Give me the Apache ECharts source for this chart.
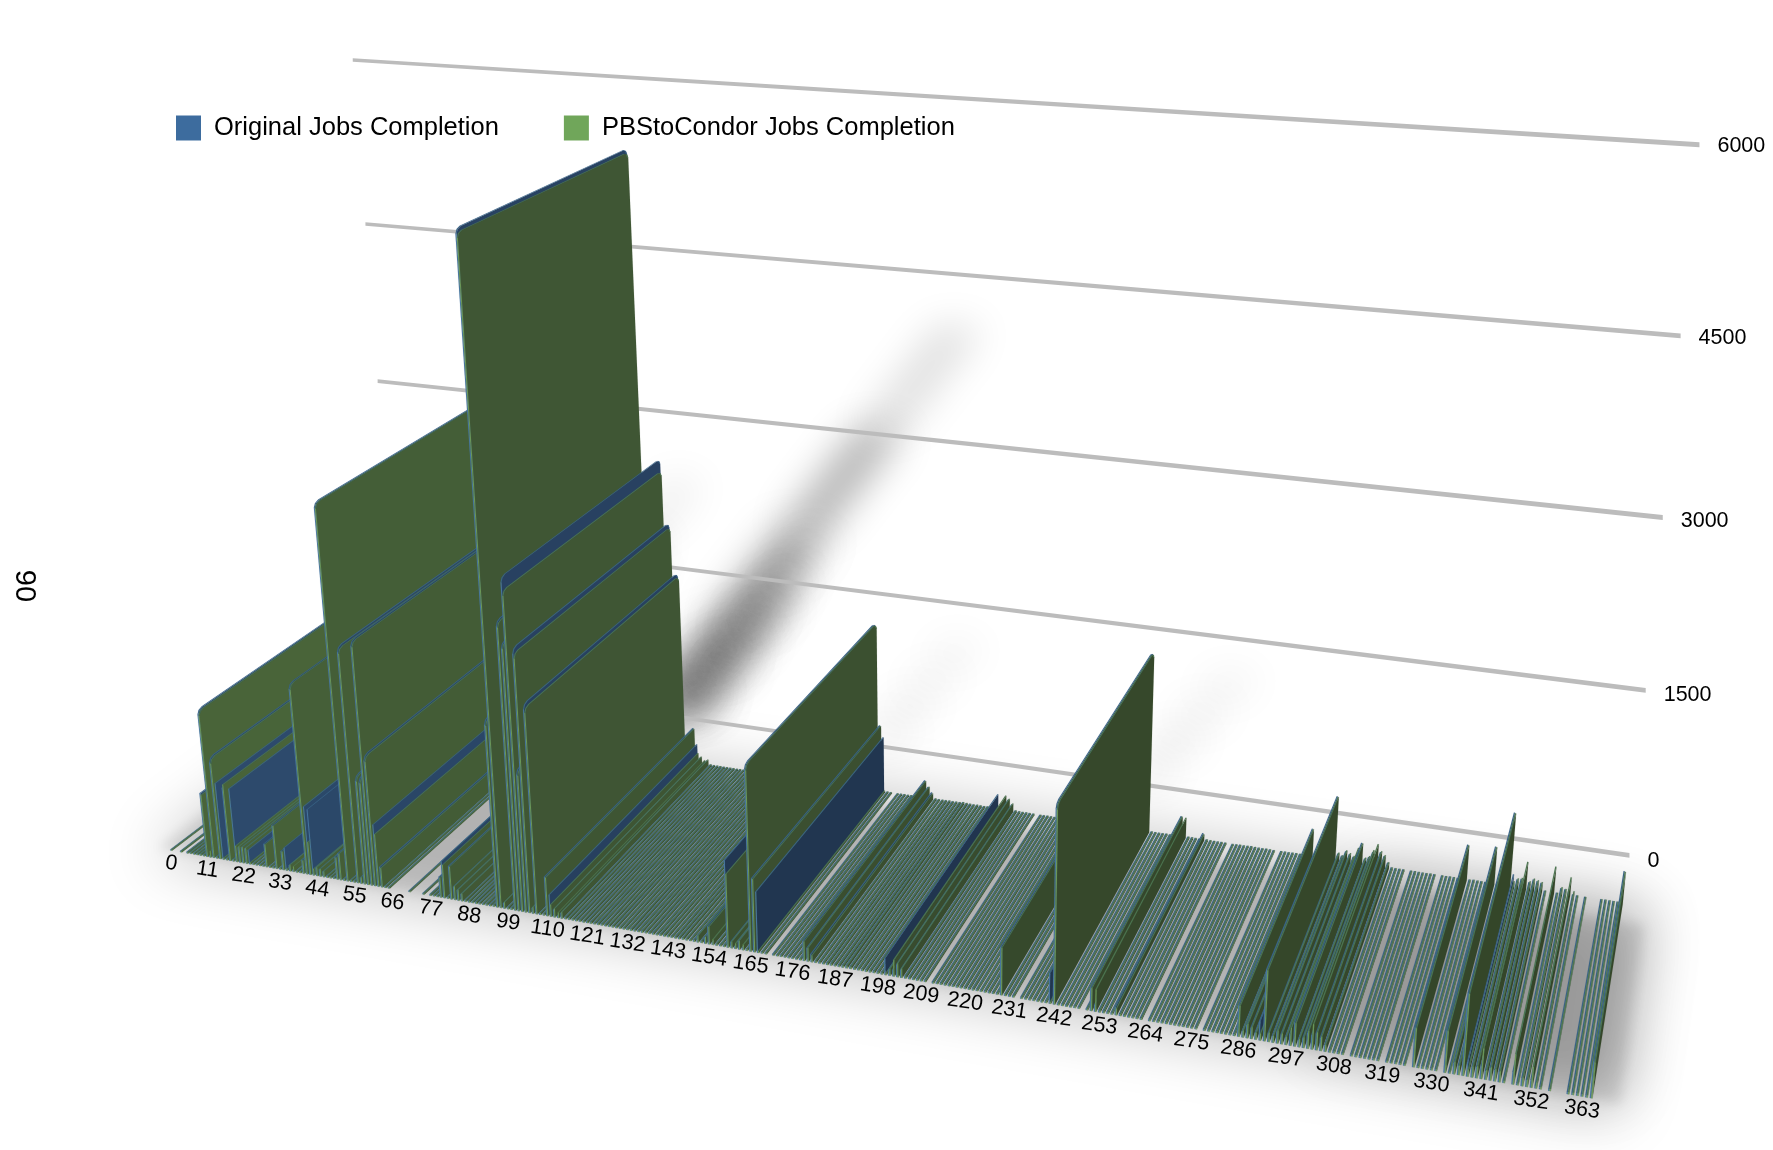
<!DOCTYPE html>
<html><head><meta charset="utf-8">
<style>html,body{margin:0;padding:0;background:#fff}#c{width:1773px;height:1150px}</style>
<script src="https://cdn.jsdelivr.net/npm/echarts@6/dist/echarts.min.js"></script>
</head><body><div id="c"></div>
<script>
var categories = Array.from({length:366},function(_,i){return String(i);});
var xTickLabels = ['0','11','22','33','44','55','66','77','88','99','110','121','132','143','154','165','176','187','198','209','220','231','242','253','264','275','286','297','308','319','330','341','352','363'];
var yTicks = [0,1500,3000,4500,6000];
var axisTitle = '90';
var originalJobs = [
9,0,0,10,0,13,14,12,14,16,16,
585,18,1350,18,930,700,16,670,18,670,140,
145,140,130,13,11,12,10,215,13,12,400,
13,175,210,55,21,14,14,125,1705,620,600,
75,65,50,16,14,13,205,245,16,3290,16,
16,2090,55,975,965,2160,1170,560,185,13,10,
0,0,0,0,0,10,0,0,0,11,0,
13,14,12,185,330,16,300,120,95,65,16,
14,13,15,14,12,14,13,16,1650,5575,50,
16,18,2500,2320,2870,1260,2290,50,1830,16,16,
350,195,70,20,50,17,15,14,15,14,14,
14,14,13,15,14,13,14,14,15,13,14,
13,14,14,13,15,14,13,14,12,14,14,
14,13,14,15,16,14,13,15,50,18,55,
160,20,16,13,14,760,55,20,75,20,16,
1600,640,530,13,12,0,11,12,13,12,13,
12,13,14,175,118,70,16,15,14,16,16,
15,16,17,21,18,16,15,16,15,14,16,
15,16,145,55,60,110,70,18,15,14,14,
14,13,0,12,13,14,13,12,13,14,13,
13,12,14,13,12,13,14,13,12,410,14,
14,13,0,12,13,14,13,12,13,14,260,
1665,14,13,12,13,14,12,0,12,198,60,
16,16,15,14,70,16,14,13,13,14,13,
0,12,13,14,13,15,16,14,13,13,14,
13,12,0,13,14,13,14,15,14,14,15,
262,50,110,90,55,160,590,70,55,100,80,
60,100,200,60,80,130,120,140,110,55,16,
15,14,14,0,13,14,13,12,13,14,13,
0,13,12,14,13,12,0,325,13,16,14,
14,13,0,345,13,90,70,670,120,80,90,
100,70,100,90,80,16,0,100,13,60,55,
60,20,16,0,15,0,0,0,16,17,16,
16,15,295];
var pbsJobs = [
10,0,0,11,0,14,16,13,15,18,16,
570,60,1340,20,920,18,18,700,19,150,150,
150,145,18,14,12,13,11,210,14,13,395,
14,170,18,60,50,16,16,120,1700,300,60,
80,70,55,18,16,14,200,240,18,3285,18,
18,2075,60,970,960,2150,1160,475,175,14,11,
0,0,0,0,0,11,0,0,0,12,0,
14,15,13,180,300,18,295,125,100,70,18,
16,14,16,15,13,16,14,18,1640,5545,60,
18,20,2490,2315,2760,1250,2250,60,1800,18,18,
345,110,80,50,60,19,17,16,16,15,16,
15,16,14,16,15,14,16,15,16,14,15,
14,16,15,14,16,16,14,15,13,16,15,
16,14,15,16,18,16,14,16,60,20,60,
155,50,18,14,15,640,60,50,80,50,18,
1595,635,18,14,13,0,12,13,14,13,14,
13,14,15,170,120,60,18,16,16,17,18,
16,17,19,23,20,17,16,18,16,16,17,
16,17,18,60,145,120,80,20,16,15,16,
15,14,0,13,14,15,14,13,14,15,14,
14,13,15,14,13,14,15,14,13,405,16,
15,14,0,13,14,15,14,13,14,15,18,
1660,15,14,13,14,15,13,0,13,195,190,
18,17,16,16,60,18,16,15,14,15,14,
0,13,14,15,14,16,18,16,15,14,16,
14,13,0,14,15,14,16,16,16,15,16,
258,60,120,100,60,60,585,80,60,110,90,
70,150,195,70,90,150,210,150,120,60,18,
16,16,15,0,14,15,14,13,14,15,14,
0,14,13,15,14,13,0,320,14,18,16,
15,14,0,340,14,100,80,665,60,90,100,
250,80,110,100,90,18,0,245,14,70,60,
170,50,18,0,16,0,0,0,17,19,18,
17,16,290];

/* camera: a projective map fitted to the frame of the scene (category, depth, value -> screen) */
var S = 1773/1568, XN = 365, VN = 6000, BAR_DEPTH = 0.77;
var cameraRefs = [
 [0,1,6000,310,53],[0,1,4500,322,198],[0,1,3000,334,337],[0,1,0,358,599],
 [365,1,6000,1501,127],[365,1,4500,1486,296],[365,1,3000,1471,457],[365,1,1500,1456,612],[365,1,0,1441,757],
 [0,0,0,150,752],[66,0,0,345,787],[165,0,0,665,842],[242,0,0,931,887],[363,0,0,1400,969],
 [0,0,6000,82,126],[365,0,6000,1481,237],[97,0,5545,407,205],[242,0,1660,932,710]
];
function fitCamera(refs){
  var n=11,A=[],b=[],i,j,k;
  for(i=0;i<n;i++){A.push(new Array(n).fill(0));b.push(0);}
  function add(r,v){for(var p=0;p<n;p++){for(var q=0;q<n;q++)A[p][q]+=r[p]*r[q];b[p]+=r[p]*v;}}
  refs.forEach(function(t){
    var X=t[0]/XN,D=t[1],V=t[2]/VN,x=t[3]*S/1000,y=t[4]*S/1000;
    add([X,D,V,1,0,0,0,0,-x*X,-x*D,-x*V],x);
    add([0,0,0,0,X,D,V,1,-y*X,-y*D,-y*V],y);
  });
  for(i=0;i<n;i++){
    var m=i;for(j=i+1;j<n;j++)if(Math.abs(A[j][i])>Math.abs(A[m][i]))m=j;
    var ta=A[i];A[i]=A[m];A[m]=ta;var tb=b[i];b[i]=b[m];b[m]=tb;
    for(j=i+1;j<n;j++){var f=A[j][i]/A[i][i];for(k=i;k<n;k++)A[j][k]-=f*A[i][k];b[j]-=f*b[i];}
  }
  var p=new Array(n);
  for(i=n-1;i>=0;i--){var s=b[i];for(k=i+1;k<n;k++)s-=A[i][k]*p[k];p[i]=s/A[i][i];}
  return p;
}
var cam = fitCamera(cameraRefs);
function project(X,D,V){
  var x=X/XN,v=V/VN,w=cam[8]*x+cam[9]*D+cam[10]*v+1;
  return [1000*(cam[0]*x+cam[1]*D+cam[2]*v+cam[3])/w,1000*(cam[4]*x+cam[5]*D+cam[6]*v+cam[7])/w];
}
/* read the library's scales, return model coordinates */
function model(params,api,cat,val,off){
  var c=api.coord([cat,val]),cs=params.coordSys,band=api.size([1,0])[0];
  return {X:(c[0]+(off||0)*band-cs.x)/cs.width*366-0.5, V:(cs.y+cs.height-c[1])/cs.height*VN};
}
function lerp(a,b,t){return a+(b-a)*t;}
function ramp(stops,i){
  for(var k=1;k<stops.length;k++){
    if(i<=stops[k][0]){var t=(i-stops[k-1][0])/(stops[k][0]-stops[k-1][0]);
      return 'rgb('+[1,2,3].map(function(c){return Math.round(lerp(stops[k-1][c],stops[k][c],t));}).join(',')+')';}
  }
  var l=stops[stops.length-1];return 'rgb('+l[1]+','+l[2]+','+l[3]+')';
}
var greenSide=[[0,74,102,58],[100,63,86,52],[250,53,71,43],[365,52,70,41]];
var blueSide=[[0,46,76,110],[100,40,66,98],[170,33,53,79],[365,33,55,82]];
function barRenderer(a,b,side,front,top,order){
  return function(params,api){
    var i=api.value(0),val=api.value(1);
    if(!val)return null;
    var l=model(params,api,i,0,a),r=model(params,api,i,val,b),L=l.X,R=r.X,V=r.V,D=BAR_DEPTH,z=i*2+order;
    /* soft rounded corners on the taller panels */
    var c=V>=900?45:0,e=V>=900?0.018:0;
    function poly(p,col){return {type:'polygon',z2:z,silent:true,shape:{points:p},style:{fill:col,stroke:col,lineWidth:0.1,lineJoin:'round'}};}
    return {type:'group',children:[
      poly([project(R,0,0),project(R,D,0),project(R,D,V-c),project(R,D-e*0.3,V-c*0.3),project(R,D-e,V),project(R,e,V),project(R,e*0.3,V-c*0.3),project(R,0,V-c)],ramp(side,i)),
      poly([project(L,0,V-c),project(R,0,V-c),project(R,e*0.3,V-c*0.3),project(R,e,V),project(R,D-e,V),project(R,D-e*0.3,V-c*0.3),project(R,D,V-c),project(L,D,V-c),project(L,D-e*0.3,V-c*0.3),project(L,D-e,V),project(L,e,V),project(L,e*0.3,V-c*0.3)],top),
      poly([project(L,0,0),project(R,0,0),project(R,0,V-c),project(L,0,V-c)],front)
    ]};
  };
}
/* blurred shadow only: the shape sits off canvas and its shadow falls back on it */
var OFF=4000;
function softShadow(pts,alpha,blur,z2){
  return {type:'polygon',silent:true,z2:z2||0,shape:{points:pts.map(function(p){return [p[0]-OFF,p[1]];})},
    style:{fill:'#000',shadowColor:'rgba(0,0,0,'+alpha+')',shadowBlur:blur,shadowOffsetX:OFF,shadowOffsetY:0}};
}
function floorShadow(params,api){
  var a=model(params,api,0,0,-4),b=model(params,api,365,0,6);
  return {type:'group',children:[
    softShadow([project(a.X,-0.045,0),project(b.X,-0.045,0),project(b.X,BAR_DEPTH,0),project(a.X,BAR_DEPTH,0)],0.22,60),
    softShadow([project(b.X-70,0.02,0),project(b.X+1,0.02,0),project(b.X+1,BAR_DEPTH,0),project(b.X-70,BAR_DEPTH,0)],0.14,60),
    softShadow([project(a.X,0,0),project(b.X,0,0),project(b.X,BAR_DEPTH*0.9,0),project(a.X,BAR_DEPTH*0.9,0)],0.10,12)
  ]};
}
function wallShadow(params,api){
  var i=api.value(0),val=api.value(1),kids=[],base=[0.38,0.38,0.32,0.13],n=base.length;
  var hw=6.5, top=0.73*val, gain=Math.pow(val/5545,1.4);
  for(var k=0;k<n;k++){
    var v0=top*k/n,v1=top*(k+1)/n,x0=i-10+0.023*v0,x1=i-10+0.023*v1;
    kids.push(softShadow([project(x0-hw,1,v0),project(x0+hw,1,v0),project(x1+hw,1,v1),project(x1-hw,1,v1)],Math.max(0.05,base[k]*gain),38));
  }
  return {type:'group',children:kids};
}
function gridLine(params,api){
  var v=api.value(0),a=model(params,api,0,v),b=model(params,api,365,v);
  var p=project(a.X,1,a.V),q=project(b.X,1,b.V);
  return {type:'group',children:[
    {type:'polygon',silent:true,shape:{points:[[p[0],p[1]-1.8],[q[0],q[1]-2.4],[q[0],q[1]+2.4],[p[0],p[1]+1.8]]},style:{fill:'#bcbcbc'}},
    {type:'text',silent:true,x:q[0]+18,y:q[1]+1+(VN-v)/VN*5,style:{text:String(v),fill:'#000',font:'21.5px "Liberation Sans"',align:'left',verticalAlign:'middle'}}
  ]};
}
function catLabel(params,api){
  var i=api.value(0),m=model(params,api,i,0),p=project(m.X,0,0);
  return {type:'text',silent:true,z2:1,x:p[0],y:p[1]+13,rotation:-0.15,
    style:{text:xTickLabels[params.dataIndex],fill:'#000',font:'21.5px "Liberation Sans"',align:'center',verticalAlign:'middle'}};
}
function silentSeries(name,z,data,fn){
  return {type:'custom',name:name,z:z,silent:true,animation:false,clip:false,coordinateSystem:'cartesian2d',data:data,renderItem:fn,encode:{x:0,y:1},tooltip:{show:false}};
}
var BLUE='#3d6c9e',GREEN='#70a65a';
function pair(arr){return arr.map(function(v,i){return [i,v];});}
var tall=pair(pbsJobs).filter(function(d){return d[1]>=1500;});
var chart=echarts.init(document.getElementById('c'),null,{renderer:'canvas',width:1773,height:1150});
chart.setOption({
  animation:false,
  backgroundColor:'#fff',
  legend:{data:['Original Jobs Completion','PBStoCondor Jobs Completion'],left:171,top:110,icon:'rect',itemWidth:25,itemHeight:25,itemGap:65,selectedMode:false,
    textStyle:{fontFamily:'Liberation Sans',fontSize:25.5,color:'#000',padding:[9,0,0,8]}},
  grid:{left:0,right:0,top:0,bottom:0,containLabel:false},
  xAxis:{type:'category',data:categories,show:false},
  yAxis:{type:'value',min:0,max:6000,interval:1500,show:false},
  graphic:[{type:'text',x:24,y:586,rotation:-Math.PI/2,silent:true,style:{text:axisTitle,fill:'#000',font:'29px "Liberation Sans"',align:'center',verticalAlign:'middle'}}],
  series:[
    silentSeries('floor shadow',0,[[0,0]],floorShadow),
    silentSeries('wall shadow',0,tall,wallShadow),
    silentSeries('value axis',1,yTicks.map(function(v){return [v,0];}),gridLine),
    {type:'custom',name:'Original Jobs Completion',z:2,animation:false,clip:false,coordinateSystem:'cartesian2d',silent:true,itemStyle:{color:BLUE},
      data:pair(originalJobs),encode:{x:0,y:1},renderItem:barRenderer(-0.36,-0.07,blueSide,'#47769f','#3a6485',0)},
    {type:'custom',name:'PBStoCondor Jobs Completion',z:2,animation:false,clip:false,coordinateSystem:'cartesian2d',silent:true,itemStyle:{color:GREEN},
      data:pair(pbsJobs),encode:{x:0,y:1},renderItem:barRenderer(-0.07,0.22,greenSide,'#6a9658','#4c7550',1)},
    silentSeries('category axis',3,xTickLabels.map(function(s){return [Number(s),0];}),catLabel)
  ]
});
</script></body></html>
